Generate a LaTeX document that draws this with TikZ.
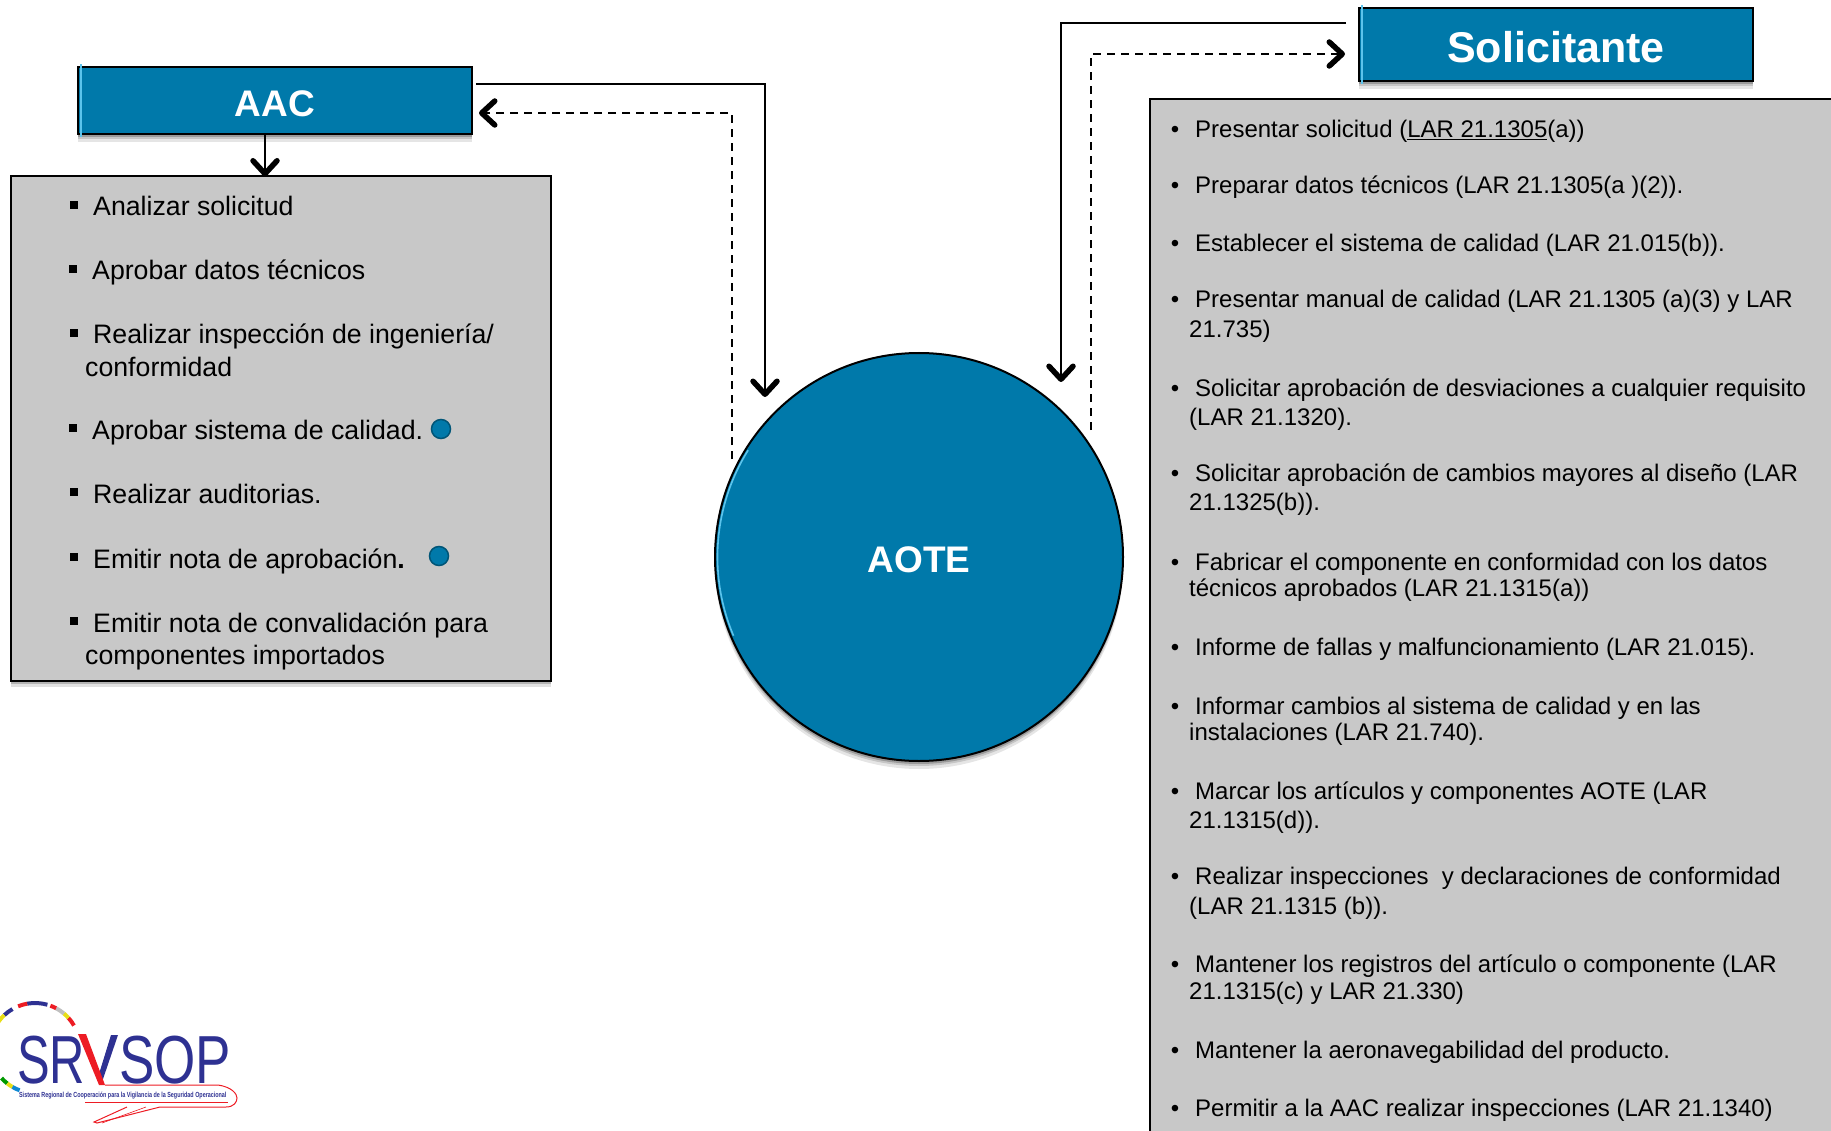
\documentclass[tikz,border=0pt]{standalone}
\usepackage{fontspec}
\setmainfont{Liberation Sans}
\usetikzlibrary{arrows.meta,shadows,calc}
\definecolor{boxblue}{HTML}{0079AA}
\definecolor{boxgrey}{HTML}{C8C8C8}
\definecolor{edgeblue}{HTML}{5CC4EC}
\definecolor{logoblue}{HTML}{2E3192}
\definecolor{logored}{HTML}{ED1C24}
\tikzset{
  softshadow/.style={
    general shadow={fill=black,opacity=.10,shadow yshift=-8pt,shadow xshift=0pt},
    general shadow={fill=black,opacity=.14,shadow yshift=-5pt,shadow xshift=0pt},
    general shadow={fill=black,opacity=.22,shadow yshift=-3pt,shadow xshift=0pt}},
  bluebox/.style={rectangle,draw=black,line width=2pt,fill=boxblue,text=white,font=\bfseries,inner sep=0pt,outer sep=0pt,softshadow},
  greybox/.style={rectangle,draw=black,line width=2pt,fill=boxgrey,inner sep=0pt,outer sep=0pt,
    general shadow={fill=black,opacity=.12,shadow yshift=-6pt,shadow xshift=0pt},
    general shadow={fill=black,opacity=.2,shadow yshift=-3pt,shadow xshift=0pt}},
  listleft/.style={anchor=base west,inner sep=0pt,font=\fontsize{26.7pt}{30pt}\selectfont},
  listright/.style={anchor=base west,inner sep=0pt,font=\fontsize{24pt}{28pt}\selectfont},
  solidflow/.style={line width=2pt,draw=black,-{Straight Barb[length=13pt,width=24pt,line width=5.5pt,round]}},
  dashflow/.style={line width=2pt,draw=black,dash pattern=on 8pt off 6pt,-{Straight Barb[length=13pt,width=24pt,line width=5.5pt,round]}},
  dotmark/.style={circle,fill=boxblue,draw=boxblue!70!black,line width=1.5pt,minimum size=19pt,inner sep=0pt},
  planeline/.style={draw=logored,line width=1pt},
}
\newcommand{\sqb}{\llap{\rule[7pt]{8pt}{8pt}\hspace{15pt}}}
\newcommand{\rdb}{\llap{•\hspace{16pt}}}
\begin{document}
\begin{tikzpicture}[x=1pt,y=-1pt]
\useasboundingbox (0,0) rectangle (1831,1131);
\clip (0,0) rectangle (1831,1131);
% main boxes
\node[greybox,minimum width=540pt,minimum height=504pt] (gleft) at (281,428.5) {};
\node[greybox,minimum width=700pt,minimum height=1060pt] (gright) at (1500,629) {};
\node[bluebox,minimum width=394pt,minimum height=67pt,text height=32pt,font=\fontsize{37pt}{40pt}\selectfont\bfseries] (aac) at (275,101) {AAC};
\node[bluebox,minimum width=394pt,minimum height=73pt,text height=36.5pt,font=\fontsize{43pt}{46pt}\selectfont\bfseries] (sol) at (1556,44.5) {Solicitante};
\node[bluebox,circle,minimum size=408pt,text height=32pt,font=\fontsize{37pt}{40pt}\selectfont\bfseries] (aote) at (919,557) {AOTE};
% bevel highlights
\draw[edgeblue,line width=2pt] ([shift={(3pt,3pt)}]aac.north west) -- ([shift={(3pt,-3pt)}]aac.south west);
\draw[edgeblue,line width=2pt] ([shift={(3pt,3pt)}]sol.north west) -- ([shift={(3pt,-3pt)}]sol.south west);
\draw[edgeblue,line width=1.6pt] (aote.center) ++(157:201.5) arc[start angle=157,end angle=212,radius=201.5];
% connector end points
\coordinate (aacout) at (476,84);
\coordinate (aacin) at (479,113);
\coordinate (aacdown) at (265,134);
\coordinate (aotea) at (765,397);
\coordinate (aoteb) at (732,459);
\coordinate (aotec) at (1061,382);
\coordinate (aoted) at (1091,430);
\coordinate (solout) at (1346,23);
\coordinate (solin) at (1345,54);
% connectors
\draw[solidflow] (aacdown) -- (aacdown |- gleft.north);
\draw[solidflow] (aacout) -| (aotea);
\draw[dashflow] (aoteb) |- (aacin);
\draw[solidflow] (solout) -| (aotec);
\draw[dashflow] (aoted) |- (solin);
% left list
\node[listleft] (l1) at (93,216) {\sqb Analizar solicitud};
\node[listleft] (l2) at (92,280) {\sqb Aprobar datos técnicos};
\node[listleft] (l3) at (93,344) {\sqb Realizar inspección de ingeniería/};
\node[listleft] (l3b) at (85,377) {conformidad};
\node[listleft] (l4) at (92,439) {\sqb Aprobar sistema de calidad.};
\node[listleft] (l5) at (93,503) {\sqb Realizar auditorias.};
\node[listleft] (l6) at (93,568) {\sqb Emitir nota de aprobación\textbf{.}};
\node[listleft] (l7) at (93,632) {\sqb Emitir nota de convalidación para};
\node[listleft] (l7b) at (85,664) {componentes importados};
\node[dotmark] (d1) at (441,429) {};
\node[dotmark] (d2) at (439,556) {};
% right list
\node[listright] (r1) at (1195,138) {\rdb Presentar solicitud (\underline{LAR 21.1305}(a))};
\node[listright] (r2) at (1195,194) {\rdb Preparar datos técnicos (LAR 21.1305(a )(2)).};
\node[listright] (r3) at (1195,252) {\rdb Establecer el sistema de calidad (LAR 21.015(b)).};
\node[listright] (r4) at (1195,308) {\rdb Presentar manual de calidad (LAR 21.1305 (a)(3) y LAR};
\node[listright] (r4b) at (1189,338) {21.735)};
\node[listright] (r5) at (1195,396) {\rdb Solicitar aprobación de desviaciones a cualquier requisito};
\node[listright] (r5b) at (1189,425) {(LAR 21.1320).};
\node[listright] (r6) at (1195,481) {\rdb Solicitar aprobación de cambios mayores al diseño (LAR};
\node[listright] (r6b) at (1189,510) {21.1325(b)).};
\node[listright] (r7) at (1195,570) {\rdb Fabricar el componente en conformidad con los datos};
\node[listright] (r7b) at (1189,596) {técnicos aprobados (LAR 21.1315(a))};
\node[listright] (r8) at (1195,655) {\rdb Informe de fallas y malfuncionamiento (LAR 21.015).};
\node[listright] (r9) at (1195,714) {\rdb Informar cambios al sistema de calidad y en las};
\node[listright] (r9b) at (1189,740) {instalaciones (LAR 21.740).};
\node[listright] (r10) at (1195,799) {\rdb Marcar los artículos y componentes AOTE (LAR};
\node[listright] (r10b) at (1189,828) {21.1315(d)).};
\node[listright] (r11) at (1195,884) {\rdb Realizar inspecciones\ \ y declaraciones de conformidad};
\node[listright] (r11b) at (1189,914) {(LAR 21.1315 (b)).};
\node[listright] (r12) at (1195,972) {\rdb Mantener los registros del artículo o componente (LAR};
\node[listright] (r12b) at (1189,999) {21.1315(c) y LAR 21.330)};
\node[listright] (r13) at (1195,1058) {\rdb Mantener la aeronavegabilidad del producto.};
\node[listright] (r14) at (1195,1116) {\rdb Permitir a la AAC realizar inspecciones (LAR 21.1340)};
% logo: flag ring
\foreach \a/\b/\c in {30/42/logored,42/50/yellow!90!black,50/62/gray!50,62/70/logored,74/100/logoblue,100/112/logored,120/133/logoblue,133/150/yellow!90!black,222/232/green!60!black,232/240/yellow!90!black,240/250/cyan!70!blue}
  \draw[\c,line width=4pt] (35,1048) ++(-\a:45) arc[start angle=-\a,end angle=-\b,radius=45];
% logo: lettering
\node[anchor=base west,inner sep=0pt,text=logoblue,font=\fontsize{68pt}{68pt}\selectfont,xscale=.72] (sr) at (17,1083) {SR};
\node[anchor=base west,inner sep=0pt,text=logoblue,font=\fontsize{68pt}{68pt}\selectfont,xscale=.78] (sop) at (119,1083) {SOP};
\fill[logoblue] (118,1035) -- (111,1035) -- (99,1074) -- (102,1082) -- cycle;
\fill[logored] (78,1034) -- (86,1034) -- (105,1085) -- (99,1085) -- cycle;
\node[anchor=base west,inner sep=0pt,text=logoblue,font=\fontsize{7.4pt}{8pt}\selectfont\bfseries,xscale=.73] (sub) at (19,1097) {Sistema Regional de Cooperación para la Vigilancia de la Seguridad Operacional};
% logo: aeroplane outline
\draw[planeline] (105,1085) -- (218,1085) .. controls (232,1087) and (237,1094) .. (237,1098) .. controls (237,1102) and (234,1107) .. (226,1107) -- (160,1107) -- (97,1123) -- (94,1122) -- (127,1107);
\draw[planeline] (85,1102) -- (228,1102);
\draw[planeline,line width=.6pt] (102,1123) -- (146,1107);
\end{tikzpicture}
\end{document}
